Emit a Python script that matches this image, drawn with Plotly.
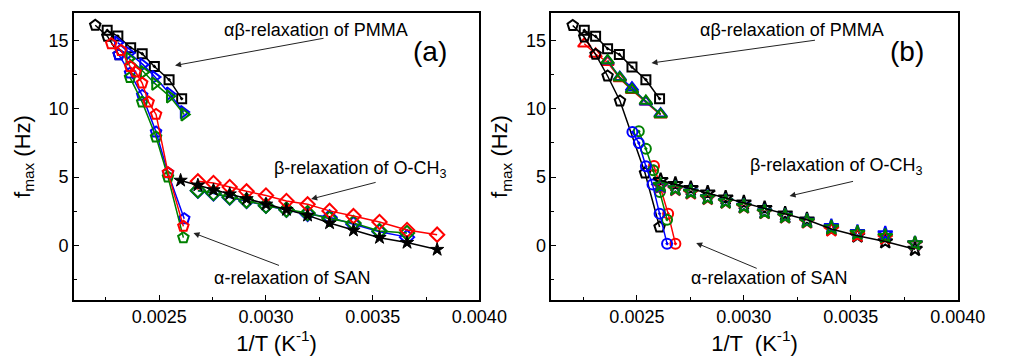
import plotly.graph_objects as go

W, H = 1013, 358

# ---------------- Panel (a) data ----------------
a_pmma_black_x = [0.002256, 0.002306, 0.002366, 0.00242, 0.002477, 0.002546, 0.002605]
a_pmma_black_y = [15.73, 15.31, 14.46, 14.02, 13.09, 12.12, 10.73]
a_pmma_blue_x = [0.002306, 0.002359, 0.002424, 0.00248, 0.002549, 0.002614]
a_pmma_blue_y = [14.83, 14.07, 13.22, 12.31, 11.1, 9.75]
a_pmma_green_x = [0.002359, 0.002427, 0.00248, 0.002549, 0.002617]
a_pmma_green_y = [13.66, 12.68, 11.83, 10.9, 9.58]

a_san_black_x = [0.0022, 0.002257, 0.00231]
a_san_black_y = [16.1, 15.3, 13.95]
a_san_blue_x = [0.00231, 0.002363, 0.00242, 0.002485, 0.002541, 0.002617]
a_san_blue_y = [13.95, 12.6, 10.97, 8.29, 5.3, 1.95]
a_san_green_x = [0.002363, 0.00242, 0.002485, 0.002541, 0.002613]
a_san_green_y = [12.27, 10.48, 7.92, 5.0, 0.56]
a_san_red_x = [0.002275, 0.002321, 0.002363, 0.002389, 0.00242, 0.00245, 0.002485, 0.002541, 0.002613]
a_san_red_y = [14.75, 14.26, 13.09, 12.68, 11.87, 10.48, 9.58, 5.32, 1.39]

a_beta_x = [0.002681, 0.002754, 0.00283, 0.002909, 0.003, 0.003096, 0.003195,
            0.003298, 0.00341, 0.003532, 0.003661, 0.003802]
a_beta_red_y = [4.68, 4.56, 4.27, 3.95, 3.65, 3.24, 3.0, 2.52, 2.14, 1.71, 1.12, 0.78]
a_beta_green_y = [4.02, 3.83, 3.53, 3.27, 2.9, 2.61, 2.36, 1.95, 1.63, 1.05, 0.9]
a_beta_blue_y = [4.0, 3.8, 3.5, 3.25, 2.9, 2.6, 2.3, 2.05, 1.55, 1.0, 0.6]
a_beta_black_x = [0.0026, 0.002681, 0.002754, 0.00283, 0.002909, 0.003, 0.003096,
                  0.003195, 0.003298, 0.00341, 0.003532, 0.003661, 0.003802]
a_beta_black_y = [4.75, 4.4, 4.05, 3.75, 3.4, 3.0, 2.61, 2.19, 1.63, 1.10, 0.56, 0.2, -0.31]

# ---------------- Panel (b) data ----------------
b_pmma_black_x = [0.002254, 0.002307, 0.002363, 0.002418, 0.002477, 0.002542, 0.002606]
b_pmma_black_y = [15.73, 15.29, 14.39, 13.97, 13.04, 12.12, 10.73]
b_pmma_red_x = [0.002254, 0.002307, 0.002363, 0.00242, 0.002477, 0.002542, 0.002611]
b_pmma_red_y = [14.75, 14.0, 13.4, 12.2, 11.35, 10.5, 9.55]
b_pmma_blue_x = [0.002363, 0.00242, 0.002477, 0.002542, 0.002611]
b_pmma_blue_y = [13.5, 12.3, 11.54, 10.5, 9.63]
b_pmma_green_x = [0.002363, 0.00242, 0.002477, 0.002542, 0.002611]
b_pmma_green_y = [13.53, 12.27, 11.39, 10.56, 9.58]

b_san_black_x = [0.0022, 0.002254, 0.002307, 0.002363, 0.002421, 0.002538, 0.002606]
b_san_black_y = [16.09, 15.24, 13.97, 12.39, 10.56, 5.29, 1.34]
b_san_blue_x = [0.002479, 0.002509, 0.002542, 0.002573, 0.002606, 0.002641]
b_san_blue_y = [8.29, 7.49, 5.78, 4.46, 2.32, 0.12]
b_san_green_x = [0.002509, 0.002542, 0.002576, 0.002607, 0.002641]
b_san_green_y = [8.34, 7.07, 5.49, 3.9, 1.88]
b_san_red_x = [0.00258, 0.002646, 0.00268]
b_san_red_y = [5.8, 2.32, 0.12]

b_beta_x = [0.002611, 0.00268, 0.002752, 0.002831, 0.002915, 0.003, 0.003097,
            0.003193, 0.003295, 0.003409, 0.003531, 0.003661, 0.0038]
b_beta_black_y = [4.75, 4.46, 4.16, 3.83, 3.47, 3.11, 2.70, 2.30, 1.87, 1.2, 0.7, 0.28, -0.28]
b_beta_red_y = [4.3, 4.1, 3.85, 3.45, 3.18, 2.82, 2.42, 2.1, 1.72, 1.15, 0.75, 0.55, 0.1]
b_beta_blue_y = [4.35, 4.15, 3.92, 3.5, 3.22, 2.87, 2.46, 2.14, 1.78, 1.38, 0.95, 0.85, 0.12]
b_beta_green_y = [4.4, 4.15, 3.9, 3.49, 3.2, 2.85, 2.44, 2.12, 1.76, 1.29, 0.9, 0.66, 0.12]

BLACK, RED, BLUE, GREEN = "#000000", "#FF0000", "#0000FF", "#008000"
FONT = "Liberation Sans, Arial, sans-serif"

fig = go.Figure()


def add(x, y, color, symbol, xa, ya, size=10, lw=1.5, mlw=2, mode="lines+markers"):
    if symbol.endswith("open") or symbol.endswith("open-dot"):
        marker = dict(symbol=symbol, size=size, color=color, line=dict(color=color, width=mlw))
    else:
        marker = dict(symbol=symbol, size=size, color=color, line=dict(color=color, width=mlw))
    fig.add_trace(go.Scatter(
        x=x, y=y, mode=mode, xaxis=xa, yaxis=ya, showlegend=False,
        line=dict(color=color, width=lw), marker=marker,
    ))


# panel (a)
add(a_pmma_black_x, a_pmma_black_y, BLACK, "square-open-dot", "x", "y", size=9)
add(a_pmma_blue_x, a_pmma_blue_y, BLUE, "triangle-right-open", "x", "y", size=11)
add(a_pmma_green_x, a_pmma_green_y, GREEN, "triangle-right-open", "x", "y", size=11)
add(a_san_black_x, a_san_black_y, BLACK, "pentagon-open", "x", "y", size=11)
add(a_san_blue_x, a_san_blue_y, BLUE, "pentagon-open", "x", "y", size=11)
add(a_san_green_x, a_san_green_y, GREEN, "pentagon-open", "x", "y", size=11)
add(a_san_red_x, a_san_red_y, RED, "pentagon-open", "x", "y", size=11)
add(a_beta_x[:len(a_beta_blue_y)], a_beta_blue_y, BLUE, "diamond-open", "x", "y", size=11)
add(a_beta_x[:len(a_beta_green_y)], a_beta_green_y, GREEN, "diamond-open", "x", "y", size=11)
add(a_beta_x, a_beta_red_y, RED, "diamond-open", "x", "y", size=11)
add(a_beta_black_x, a_beta_black_y, BLACK, "star", "x", "y", size=10, mlw=1)

# panel (b)
add(b_pmma_black_x, b_pmma_black_y, BLACK, "square-open-dot", "x2", "y2", size=9)
add(b_pmma_red_x, b_pmma_red_y, RED, "triangle-up-open", "x2", "y2", size=11)
add(b_pmma_blue_x, b_pmma_blue_y, BLUE, "triangle-up-open", "x2", "y2", size=11)
add(b_pmma_green_x, b_pmma_green_y, GREEN, "triangle-up-open", "x2", "y2", size=11)
add(b_san_black_x, b_san_black_y, BLACK, "pentagon-open", "x2", "y2", size=11)
add(b_san_red_x, b_san_red_y, RED, "circle-open-dot", "x2", "y2", size=10)
add(b_san_green_x, b_san_green_y, GREEN, "circle-open-dot", "x2", "y2", size=10)
add(b_san_blue_x, b_san_blue_y, BLUE, "circle-open-dot", "x2", "y2", size=10)
add(b_beta_x, b_beta_black_y, BLACK, "star-open", "x2", "y2", size=11, mode="markers")
add(b_beta_x, b_beta_red_y, RED, "star-open", "x2", "y2", size=11, mode="markers")
add(b_beta_x, b_beta_blue_y, BLUE, "star-open", "x2", "y2", size=11, mode="markers")
add(b_beta_x, b_beta_green_y, GREEN, "star-open", "x2", "y2", size=11, mode="markers")
# black line through the black stars in (b), drawn on top
fig.add_trace(go.Scatter(x=b_beta_x, y=b_beta_black_y, mode="lines", xaxis="x2", yaxis="y2",
                         showlegend=False, line=dict(color=BLACK, width=1.5)))


def px(x):
    return x / W


def py(y):
    return 1 - y / H


axis_common = dict(
    showline=True, linecolor="black", linewidth=1.5, mirror=True,
    ticks="inside", ticklen=5, tickwidth=1, tickcolor="black",
    showgrid=False, zeroline=False,
    tickfont=dict(family=FONT, size=18, color="black"),
)

xa = dict(axis_common, range=[0.0021, 0.0040], tick0=0.0025, dtick=0.0005, tickformat=".4f",
          minor=dict(ticks="inside", ticklen=3, dtick=0.00025, tick0=0.0025, tickcolor="black"),
          title=dict(font=dict(family=FONT, size=22, color="black"), standoff=6))
ya = dict(axis_common, range=[-4, 17], dtick=5, tick0=0,
          minor=dict(ticks="inside", ticklen=3, dtick=2.5, tick0=0, tickcolor="black"),
          title=dict(font=dict(family=FONT, size=22, color="black"), standoff=12))

fig.update_layout(
    width=W, height=H, margin=dict(l=0, r=0, t=0, b=0),
    paper_bgcolor="white", plot_bgcolor="white",
    font=dict(family=FONT, color="black"),
    xaxis=dict(xa, domain=[px(76), px(493)], anchor="y",
               title=dict(xa["title"], text="1/T (K<sup>-1</sup>)")),
    yaxis=dict(ya, domain=[py(300), py(13)], anchor="x",
               title=dict(ya["title"], text="f<sub>max</sub> (Hz)")),
    xaxis2=dict(xa, domain=[px(567), px(985)], anchor="y2",
                title=dict(xa["title"], text="1/T  (K<sup>-1</sup>)")),
    yaxis2=dict(ya, domain=[py(300), py(13)], anchor="x2",
                title=dict(ya["title"], text="f<sub>max</sub> (Hz)")),
)

ann = []


def text(x, y, s, size=18):
    ann.append(dict(x=px(x), y=py(y), xref="paper", yref="paper", text=s, showarrow=False,
                    xanchor="center", yanchor="middle",
                    font=dict(family=FONT, size=size, color="black")))


def arrow(tx, ty, hx, hy):
    ann.append(dict(x=px(hx), y=py(hy), xref="paper", yref="paper", text="",
                    showarrow=True, ax=tx - hx, ay=ty - hy, arrowhead=2, arrowsize=1.2,
                    arrowwidth=1, arrowcolor="#222222"))


text(325, 30, "αβ-relaxation of PMMA")
arrow(330, 38, 180, 65.5)
text(370, 169, "β-relaxation of O-CH<sub>3</sub>")
arrow(386, 182, 320, 199)
text(300, 278, "α-relaxation of SAN")
arrow(286, 266, 199, 233)
text(442, 52, "(a)", size=28)

text(815, 30, "αβ-relaxation of PMMA")
arrow(835, 40, 670, 63)
text(860, 167, "β-relaxation of O-CH<sub>3</sub>")
arrow(877, 181, 812, 196)
text(791, 278, "α-relaxation of SAN")
arrow(778, 269, 716, 243)
text(933, 52, "(b)", size=28)

fig.update_layout(annotations=ann)
fig.write_html("out.html")
